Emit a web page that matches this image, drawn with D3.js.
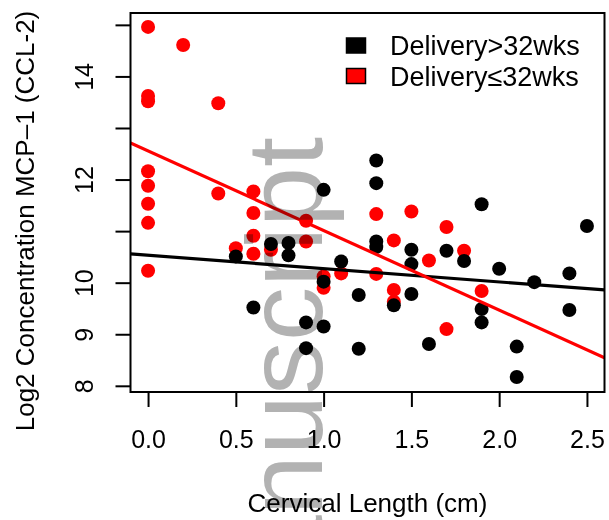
<!DOCTYPE html>
<html>
<head>
<meta charset="utf-8">
<script src="https://cdn.jsdelivr.net/npm/d3@7"></script>
<style>
  html, body { margin: 0; padding: 0; background: #fff; }
  svg { display: block; }
  text { font-family: "Liberation Sans", Arial, Helvetica, sans-serif; fill: #000; }
</style>
</head>
<body>
<svg id="chart" width="609" height="520"></svg>
<script>
// ---- data ----
const redX = [0, 0.2, 0, 0, 0.4, 0, 0, 0, 0, 0.4, 0.6, 0.6, 0.6, 0.5, 0.6, 0, 0.7, 0.9, 0.9, 1.0, 1.0, 1.1, 1.3, 1.3, 1.4, 1.4, 1.4, 1.5, 1.6, 1.7, 1.7, 1.8, 1.9];
const redY = [14.96, 14.61, 13.62, 13.52, 13.48, 12.16, 11.88, 11.53, 11.16, 11.73, 11.77, 11.35, 10.91, 10.67, 10.56, 10.23, 10.64, 11.20, 10.80, 10.12, 9.90, 10.18, 11.33, 10.17, 10.82, 9.86, 9.63, 11.38, 10.43, 11.08, 9.10, 10.62, 9.84];
const blackX = [0.5, 0.7, 0.8, 0.8, 0.6, 1.0, 1.3, 1.3, 1.3, 1.3, 1.1, 1.0, 1.2, 1.4, 1.5, 1.5, 1.5, 1.7, 0.9, 1.0, 0.9, 1.2, 1.6, 1.8, 1.9, 2.0, 2.2, 2.4, 2.5, 1.9, 1.9, 2.4, 2.1, 2.1];
const blackY = [10.51, 10.75, 10.77, 10.53, 9.52, 11.80, 12.37, 11.93, 10.80, 10.69, 10.41, 10.02, 9.76, 9.56, 10.64, 10.36, 9.78, 10.62, 9.23, 9.15, 8.73, 8.72, 8.81, 10.42, 11.52, 10.27, 10.01, 10.18, 11.10, 9.49, 9.23, 9.47, 8.76, 8.17];
// regression lines: [intercept, slope]
const blackFit = [10.532, -0.2585];
const redFit = [12.555, -1.543];
const xTicks = [0, 0.5, 1.0, 1.5, 2.0, 2.5];
const xTickLabels = ["0.0", "0.5", "1.0", "1.5", "2.0", "2.5"];
const yTicks = [8, 9, 10, 11, 12, 13, 14, 15];
const yTickLabels = ["8", "9", "10", "", "12", "", "14", ""];
const legendLabels = ["Delivery>32wks", "Delivery\u226432wks"];
const seriesColors = ["#000000", "#ff0000"];
const xTitle = "Cervical Length (cm)";
const yTitle = "Log2 Concentration MCP\u20131 (CCL-2)";
const watermark = "Author Manuscript";

// ---- layout ----
const L = 130.5, R = 604.5, T = 13, B = 392;
const svg = d3.select("#chart");
const x = d3.scaleLinear().domain([-0.1, 2.6]).range([L, R]);
const y = d3.scaleLinear().domain([7.88, 15.23]).range([B, T]);

svg.append("defs").append("clipPath").attr("id", "clip")
  .append("rect").attr("x", L).attr("y", T).attr("width", R - L).attr("height", B - T);

const plot = svg.append("g").attr("clip-path", "url(#clip)");

// points: red first, black on top
const red = redX.map((v, i) => ({x: v, y: redY[i]}));
const black = blackX.map((v, i) => ({x: v, y: blackY[i]}));
plot.selectAll("circle.red").data(red).enter().append("circle")
  .attr("class", "red").attr("cx", d => x(d.x)).attr("cy", d => y(d.y)).attr("r", 7).attr("fill", seriesColors[1]);
plot.selectAll("circle.black").data(black).enter().append("circle")
  .attr("class", "black").attr("cx", d => x(d.x)).attr("cy", d => y(d.y)).attr("r", 7).attr("fill", seriesColors[0]);

// regression lines
const xd = x.domain();
[[blackFit, seriesColors[0]], [redFit, seriesColors[1]]].forEach(([f, c]) => {
  plot.append("line")
    .attr("x1", x(xd[0])).attr("y1", y(f[0] + f[1] * xd[0]))
    .attr("x2", x(xd[1])).attr("y2", y(f[0] + f[1] * xd[1]))
    .attr("stroke", c).attr("stroke-width", 3.2);
});

// box
svg.append("rect").attr("x", L).attr("y", T).attr("width", R - L).attr("height", B - T)
  .attr("fill", "none").attr("stroke", "#000").attr("stroke-width", 2);

// x axis
const xAxis = d3.axisBottom(x).tickValues(xTicks).tickSize(15).tickFormat((d, i) => xTickLabels[i]);
const gx = svg.append("g").attr("transform", `translate(0,${B})`).call(xAxis);
gx.select(".domain").remove();
gx.selectAll(".tick line").attr("stroke", "#000").attr("stroke-width", 2);
gx.selectAll(".tick text").attr("font-size", 25).attr("font-family", "Liberation Sans, Arial, sans-serif")
  .attr("y", 0).attr("dy", 0).attr("transform", "translate(0,56)");

// y axis
const yAxis = d3.axisLeft(y).tickValues(yTicks).tickSize(15).tickFormat((d, i) => yTickLabels[i]);
const gy = svg.append("g").attr("transform", `translate(${L},0)`).call(yAxis);
gy.select(".domain").remove();
gy.selectAll(".tick line").attr("stroke", "#000").attr("stroke-width", 2);
gy.selectAll(".tick text").attr("font-size", 25).attr("font-family", "Liberation Sans, Arial, sans-serif")
  .attr("x", 0).attr("dy", 0).attr("text-anchor", "middle")
  .attr("transform", "translate(-38,0) rotate(-90)");

// titles
svg.append("text").attr("x", (L + R) / 2).attr("y", 512).attr("text-anchor", "middle")
  .attr("font-size", 26).text(xTitle);
svg.append("text").attr("transform", "translate(34,221) rotate(-90)").attr("text-anchor", "middle")
  .attr("font-size", 26).text(yTitle);

// legend
const lg = svg.append("g");
legendLabels.forEach((lab, i) => {
  const yy = 38 + i * 30.5;
  lg.append("rect").attr("x", 346.5).attr("y", yy).attr("width", 19).attr("height", 15)
    .attr("fill", seriesColors[i]).attr("stroke", "#000").attr("stroke-width", 1.5);
  lg.append("text").attr("x", 390).attr("y", yy + 17).attr("font-size", 27).text(lab);
});

// watermark (semi-transparent grey, multiplied over the plot)
svg.append("text").attr("transform", "translate(322,137) rotate(-90)")
  .attr("text-anchor", "end").attr("font-size", 108)
  .style("fill", "#b2b2b2").style("mix-blend-mode", "multiply")
  .text(watermark);
</script>
</body>
</html>
